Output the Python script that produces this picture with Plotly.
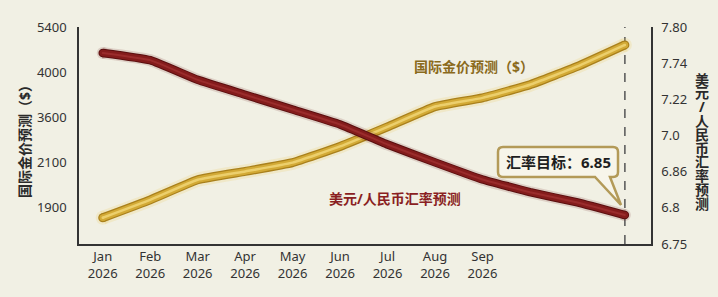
import numpy as np
import plotly.graph_objects as go

# ---------------- data ----------------
months = ["Jan", "Feb", "Mar", "Apr", "May", "Jun", "Jul", "Aug", "Sep", "Oct", "Nov", "Dec"]
year = "2026"
shown_months = months[:9]

gold_price = [1856, 1935, 2024, 2061, 2100, 2637, 3287, 3696, 3773, 3889, 4178, 4846]
usd_cny = [7.757, 7.745, 7.50, 7.286, 7.158, 7.067, 6.965, 6.896, 6.847, 6.826, 6.809, 6.79]

left_ticks = [1900, 2100, 3600, 4000, 5400]
right_ticks = [6.75, 6.8, 6.86, 7.0, 7.22, 7.74, 7.80]
right_tick_text = ["6.75", "6.8", "6.86", "7.0", "7.22", "7.74", "7.80"]

gold_label = "国际金价预测（$）"
fx_label = "美元/人民币汇率预测"
target_text = "汇率目标：6.85"

# --------------- axis mapping (evenly spaced, piecewise-linear tick scales) ---------------
def to_pos(vals, ticks):
    ticks = np.asarray(ticks, float)
    idx = np.arange(len(ticks), dtype=float)
    vals = np.asarray(vals, float)
    out = np.interp(vals, ticks, idx)
    lo = vals < ticks[0]
    out[lo] = (vals[lo] - ticks[0]) / (ticks[1] - ticks[0])
    hi = vals > ticks[-1]
    out[hi] = len(ticks) - 1 + (vals[hi] - ticks[-1]) / (ticks[-1] - ticks[-2])
    return out

gold_y = to_pos(gold_price, left_ticks)
fx_y = to_pos(usd_cny, right_ticks)
x = list(range(len(months)))

BG = "#F1F0E4"
FONT = "Noto Sans, Noto Sans CJK SC, sans-serif"

fig = go.Figure()

def ribbon(y, axis, layers):
    for color, width in layers:
        fig.add_trace(go.Scatter(
            x=x, y=y, yaxis=axis, mode="lines",
            line=dict(color=color, width=width, shape="spline", smoothing=0.35),
            hoverinfo="skip", showlegend=False))
        fig.add_trace(go.Scatter(
            x=[x[0], x[-1]], y=[y[0], y[-1]], yaxis=axis, mode="markers",
            marker=dict(color=color, size=width, line=dict(width=0)),
            hoverinfo="skip", showlegend=False))

# gold ribbon (left axis)
ribbon(gold_y, "y", [("rgba(235,205,100,0.22)", 14), ("#A9801C", 9), ("#D3AA36", 6.5), ("#ECCF6C", 2.5)])
# red ribbon (right axis)
ribbon(fx_y, "y2", [("rgba(110,25,25,0.15)", 12), ("#5A1010", 8.5), ("#841C1C", 6.5), ("#9A2C2C", 2)])

# dashed vertical marker at last month
fig.add_shape(type="line", xref="x", yref="paper", x0=x[-1], x1=x[-1], y0=0, y1=1,
              line=dict(color="#555555", width=1.5, dash="dash"), layer="below")

W, H = 718, 297
ML, MR, MT, MB = 79, 67, 27, 53
PW, PH = W - ML - MR, H - MT - MB

def px(xp):
    return (xp - ML) / PW

def py(yp):
    return (H - MB - yp) / PH

def label(xp, yp, text, size, color, angle=0):
    fig.add_annotation(xref="paper", yref="paper", x=px(xp), y=py(yp), text=text,
                       xanchor="center", yanchor="middle", textangle=angle,
                       showarrow=False, font=dict(family=FONT, size=size, color=color))

# speech-bubble box
bx0, bx1, by0, by1, r = 498, 618, 147, 177, 5
tail = [(595, 177), (621, 205), (610, 177)]
path = (f"M {px(bx0 + r)},{py(by0)} L {px(bx1 - r)},{py(by0)} "
        f"Q {px(bx1)},{py(by0)} {px(bx1)},{py(by0 + r)} "
        f"L {px(bx1)},{py(by1 - r)} Q {px(bx1)},{py(by1)} {px(bx1 - r)},{py(by1)} "
        f"L {px(tail[2][0])},{py(tail[2][1])} L {px(tail[1][0])},{py(tail[1][1])} "
        f"L {px(tail[0][0])},{py(tail[0][1])} "
        f"L {px(bx0 + r)},{py(by1)} Q {px(bx0)},{py(by1)} {px(bx0)},{py(by1 - r)} "
        f"L {px(bx0)},{py(by0 + r)} Q {px(bx0)},{py(by0)} {px(bx0 + r)},{py(by0)} Z")
fig.add_shape(type="path", xref="paper", yref="paper", path=path,
              fillcolor="#F7F5EA", line=dict(color="#B39A58", width=2.5))

label(558, 162, f"<b>{target_text}</b>", 15, "#1E1E1E")

# series labels
label(474, 66, f"<b>{gold_label}</b>", 14, "#8A6A1C")
label(395, 198, f"<b>{fx_label}</b>", 14, "#8A1F22")

# axis titles
label(24, 138, f"<b>{gold_label}</b>", 14, "#2A2A2A", angle=-90)
step = 13.8
top = 79
for i, ch in enumerate(fx_label):
    label(702, top + i * step, f"<b>{ch}</b>", 14, "#2A2A2A")

fig.update_layout(
    width=W, height=H,
    margin=dict(l=ML, r=MR, t=MT, b=MB),
    paper_bgcolor=BG, plot_bgcolor=BG,
    font=dict(family=FONT, size=13, color="#333333"),
    showlegend=False,
    xaxis=dict(
        range=[-0.5, 11.55], tickmode="array",
        tickvals=list(range(len(shown_months))),
        ticktext=[f"{m}<br>{year}" for m in shown_months],
        showgrid=False, zeroline=False, showline=True, linecolor="#333333", linewidth=1.5,
        ticks="", tickfont=dict(size=13, color="#333333"),
    ),
    yaxis=dict(
        range=[-0.8, 4.0], tickmode="array",
        tickvals=list(range(len(left_ticks))), ticktext=[str(t) for t in left_ticks],
        showgrid=False, zeroline=False, showline=True, linecolor="#333333", linewidth=1.5,
        ticks="", ticklabelstandoff=8, tickfont=dict(size=13, color="#333333"),
    ),
    yaxis2=dict(
        range=[0, 6], overlaying="y", side="right", tickmode="array",
        tickvals=list(range(len(right_ticks))), ticktext=right_tick_text,
        showgrid=False, zeroline=False, showline=True, linecolor="#333333", linewidth=1.5,
        ticks="", ticklabelstandoff=6, tickfont=dict(size=13, color="#333333"),
    ),
)

fig.write_html("out.html")
